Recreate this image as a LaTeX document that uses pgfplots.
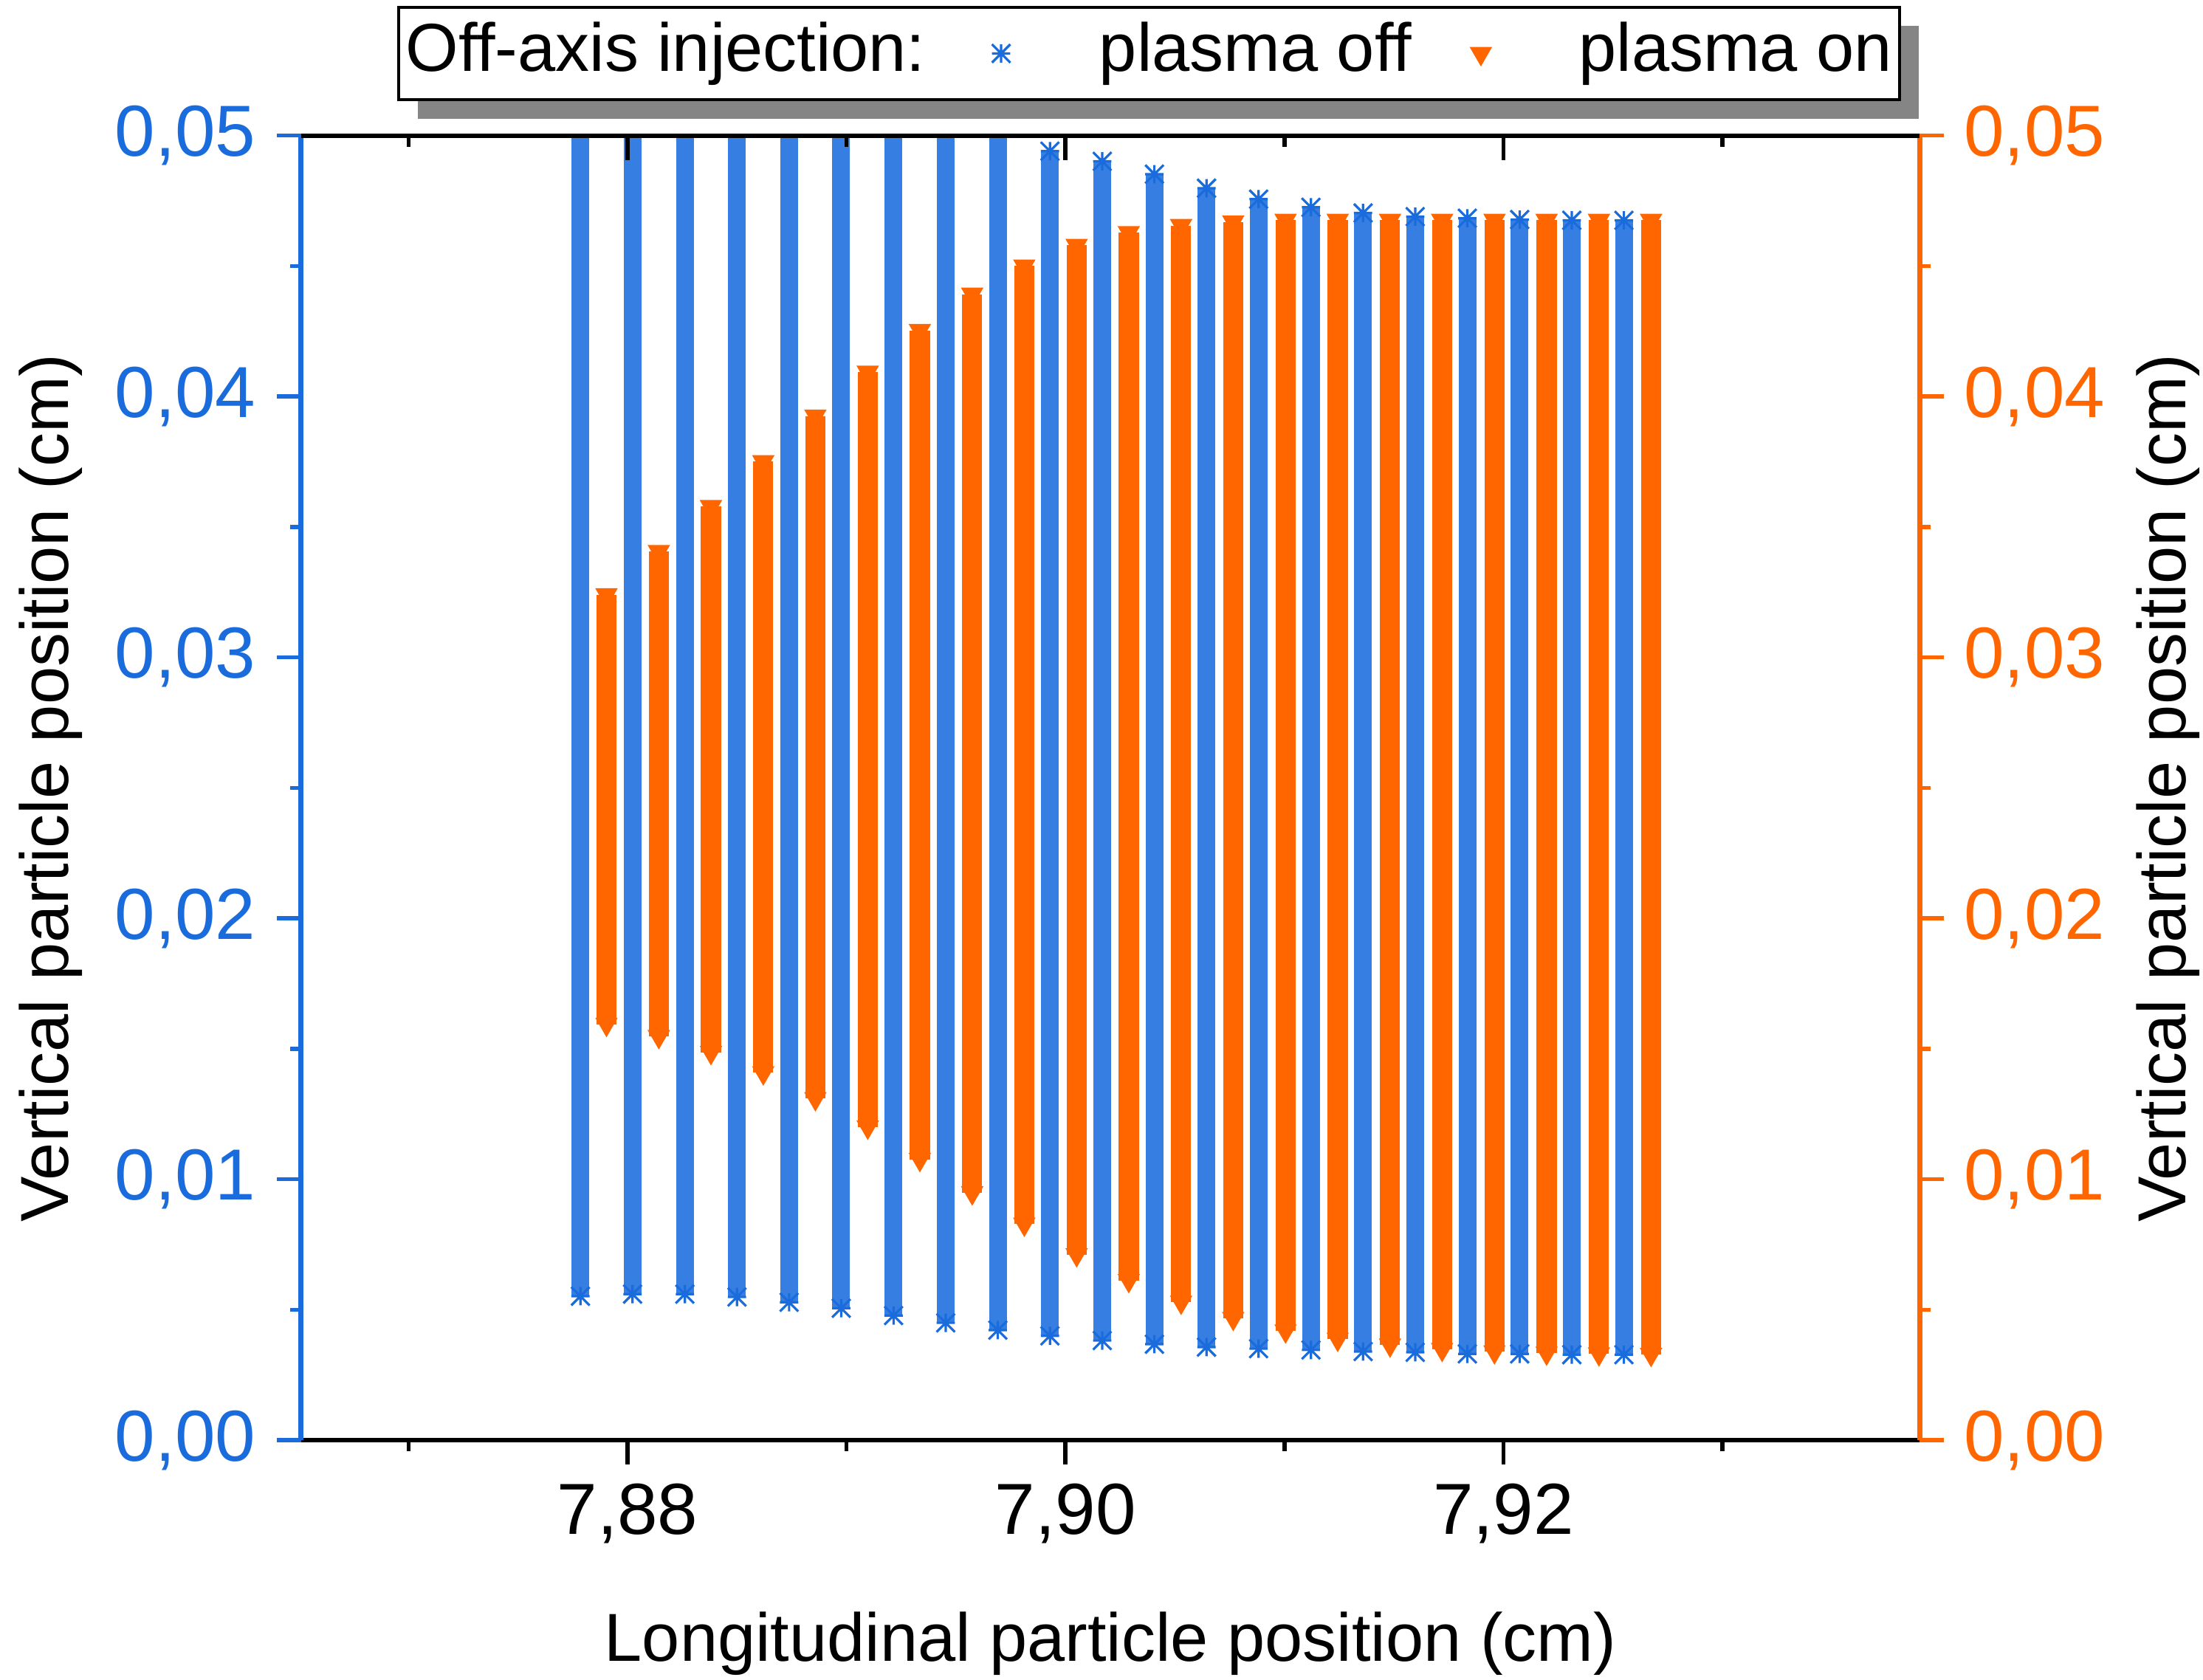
\documentclass[border=0pt]{standalone}
\usepackage{fontspec}
\setmainfont{Liberation Sans}
\usepackage{pgfplots}
\usepackage{pgfplotstable}
\pgfplotsset{compat=1.18}
\usetikzlibrary{shadows}
\definecolor{cblue}{RGB}{26,108,221}
\definecolor{corange}{RGB}{255,102,0}
\pgfdeclareplotmark{ast8}{%
  \pgfpathmoveto{\pgfqpoint{0pt}{-\pgfplotmarksize}}%
  \pgfpathlineto{\pgfqpoint{0pt}{\pgfplotmarksize}}%
  \pgfpathmoveto{\pgfqpoint{-\pgfplotmarksize}{0pt}}%
  \pgfpathlineto{\pgfqpoint{\pgfplotmarksize}{0pt}}%
  \pgfpathmoveto{\pgfqpoint{-\pgfplotmarksize}{-\pgfplotmarksize}}%
  \pgfpathlineto{\pgfqpoint{\pgfplotmarksize}{\pgfplotmarksize}}%
  \pgfpathmoveto{\pgfqpoint{-\pgfplotmarksize}{\pgfplotmarksize}}%
  \pgfpathlineto{\pgfqpoint{\pgfplotmarksize}{-\pgfplotmarksize}}%
  \pgfusepathqstroke
}
% plasma off: each column of particles from its lowest to its highest position
\pgfplotstableread{
x y
7.87785 0.00552
7.87785 0.05200
nan nan
7.88023 0.00560
7.88023 0.05200
nan nan
7.88262 0.00560
7.88262 0.05200
nan nan
7.88500 0.00549
7.88500 0.05200
nan nan
7.88738 0.00529
7.88738 0.05200
nan nan
7.88976 0.00506
7.88976 0.05200
nan nan
7.89215 0.00478
7.89215 0.05200
nan nan
7.89453 0.00450
7.89453 0.05200
nan nan
7.89691 0.00422
7.89691 0.05020
nan nan
7.89929 0.00400
7.89929 0.04940
nan nan
7.90168 0.00382
7.90168 0.04901
nan nan
7.90406 0.00368
7.90406 0.04852
nan nan
7.90644 0.00357
7.90644 0.04798
nan nan
7.90882 0.00351
7.90882 0.04756
nan nan
7.91121 0.00346
7.91121 0.04725
nan nan
7.91359 0.00340
7.91359 0.04703
nan nan
7.91597 0.00337
7.91597 0.04689
nan nan
7.91835 0.00331
7.91835 0.04683
nan nan
7.92074 0.00331
7.92074 0.04678
nan nan
7.92312 0.00328
7.92312 0.04675
nan nan
7.92550 0.00328
7.92550 0.04675
}\offdata
% plasma on
\pgfplotstableread{
x y
7.87904 0.01594
7.87904 0.03240
nan nan
7.88143 0.01547
7.88143 0.03406
nan nan
7.88381 0.01486
7.88381 0.03578
nan nan
7.88620 0.01408
7.88620 0.03750
nan nan
7.88858 0.01309
7.88858 0.03925
nan nan
7.89097 0.01200
7.89097 0.04093
nan nan
7.89335 0.01076
7.89335 0.04253
nan nan
7.89574 0.00948
7.89574 0.04392
nan nan
7.89812 0.00828
7.89812 0.04500
nan nan
7.90051 0.00711
7.90051 0.04579
nan nan
7.90289 0.00612
7.90289 0.04628
nan nan
7.90528 0.00529
7.90528 0.04655
nan nan
7.90766 0.00467
7.90766 0.04669
nan nan
7.91005 0.00419
7.91005 0.04675
nan nan
7.91243 0.00387
7.91243 0.04675
nan nan
7.91482 0.00365
7.91482 0.04675
nan nan
7.91720 0.00348
7.91720 0.04675
nan nan
7.91959 0.00339
7.91959 0.04675
nan nan
7.92197 0.00334
7.92197 0.04675
nan nan
7.92436 0.00331
7.92436 0.04675
nan nan
7.92674 0.00329
7.92674 0.04675
}\ondata
\pgfplotsset{
  common/.style={
    scale only axis, width=548pt, height=441.9pt,
    at={(0pt,0pt)}, anchor=south west,
    xmin=7.8651, xmax=7.9390, ymin=0, ymax=0.05,
    scaled ticks=false,
    tick align=outside, major tick length=8.25pt, minor tick length=3.75pt,
    tick style={line width=1.4pt},
    /pgf/number format/use comma,
    /pgf/number format/fixed,
    /pgf/number format/fixed zerofill,
    /pgf/number format/precision=2,
    /pgf/number format/assume math mode=true,
    tick label style={font=\fontsize{24.5}{29}\selectfont},
    label style={font=\fontsize{23}{27}\selectfont},
    xtick={7.88,7.90,7.92}, minor xtick={7.87,7.89,7.91,7.93},
    ytick={0,0.01,0.02,0.03,0.04,0.05},
    minor ytick={0.005,0.015,0.025,0.035,0.045},
    unbounded coords=jump,
  }
}
\begin{document}
\begin{tikzpicture}
\path[use as bounding box] (-102pt,-81pt) rectangle (644pt,487.8pt);
% left axis (blue) and bottom axis
\begin{axis}[common,
  axis x line*=bottom, axis y line*=left,
  xtick pos=left, ytick pos=left,
  x axis line style={line width=1.5pt, black},
  y axis line style={line width=1.75pt, cblue},
  ytick style={cblue}, yticklabel style={cblue, xshift=-3.6pt},
  xtick style={black}, xticklabel style={yshift=-2.9pt},
  xlabel={Longitudinal particle position (cm)},
  ylabel={Vertical particle position (cm)},
  xlabel shift=16.4pt, ylabel shift=4.1pt,
]
\addplot[cblue!88!white, line width=6pt, mark=ast8, mark size=3.1pt,
  mark options={cblue, line width=0.8pt, solid}] table[x=x, y=y] {\offdata};
\end{axis}
% right axis (orange)
\begin{axis}[common,
  axis x line=none, axis y line*=right,
  ytick pos=right, yticklabel pos=right,
  y axis line style={line width=1.75pt, corange},
  ytick style={corange}, yticklabel style={corange, xshift=3.3pt},
  ylabel={Vertical particle position (cm)},
  ylabel shift=3.7pt,
  legend columns=3,
  legend style={at={(0.98859,1.0996)}, anchor=north east,
    draw=black, line width=1pt, fill=white,
    inner xsep=2.5pt, inner ysep=4.6pt,
    font=\fontsize{23}{27}\selectfont,
    cells={anchor=west},
    nodes={inner sep=0pt, text height=17.25pt, text depth=5pt},
    general shadow={fill=black!48, shadow xshift=6.5pt, shadow yshift=-6.3pt}},
]
\addlegendimage{empty legend}
\addlegendentry{Off-axis injection:\hspace{22.5pt}\mbox{}}
\addlegendimage{legend image code/.code={%
  \draw[cblue, line width=0.8pt, mark=ast8, mark size=3.1pt] plot coordinates {(0pt,0pt)};}}
\addlegendentry{\hspace{30.1pt}plasma off\hspace{20.1pt}\mbox{}}
\addlegendimage{legend image code/.code={%
  \draw[corange, line width=0.4pt, mark=triangle*, mark size=4pt,
    mark options={rotate=180, fill=corange}] plot coordinates {(0pt,0pt)};}}
\addlegendentry{\hspace{29.7pt}plasma on}
\addplot[forget plot, corange, line width=6.8pt, mark=triangle*, mark size=4pt,
  mark options={rotate=180, line width=0.4pt, solid, fill=corange}] table[x=x, y=y] {\ondata};
\end{axis}
% top axis with inward ticks
\begin{axis}[common,
  axis x line*=top, axis y line=none,
  xtick pos=right, tick align=inside,
  xticklabels={},
  x axis line style={line width=1.5pt, black},
  xtick style={black},
]
\end{axis}
\end{tikzpicture}
\end{document}
